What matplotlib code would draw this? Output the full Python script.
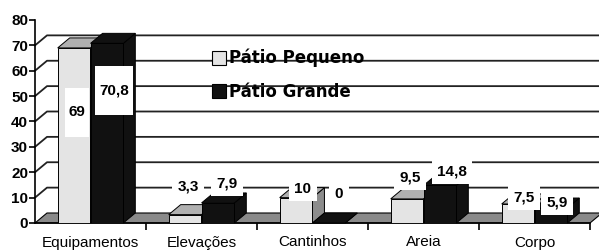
import matplotlib
matplotlib.use("Agg")
import matplotlib.pyplot as plt
from matplotlib.patches import Polygon, Rectangle
import numpy as np

# ---- data ----
categories = ["Equipamentos", "Elevações", "Cantinhos", "Areia", "Corpo"]
pequeno = [69, 3.3, 10, 9.5, 7.5]
grande = [70.8, 7.9, 0, 14.8, 5.9]
series_names = ["Pátio Pequeno", "Pátio Grande"]
yticks = [0, 10, 20, 30, 40, 50, 60, 70, 80]

# ---- layout / style ----
W, H = 599, 252
col_light = "#e4e4e4"
col_light_top = "#b0b0b0"
col_light_side = "#8c8c8c"
col_dark = "#111111"
col_floor = "#8a8a8a"
bar_w = 0.295
offsets = [-0.148, 0.148]
DX = 12 / 111.0          # depth shift in x (data units)
DY = 10 / 2.5375         # depth shift in y (data units)
# label anchor positions (x offset from category, y in data units)
label_layout = {
    0: ([-0.122, -0.122, -0.086, -0.122, -0.095], [43.6, 14.3, 13.5, 17.8, 9.9]),
    1: ([0.212, 0.230, 0.239, 0.257, 0.203], [52.3, 15.4, 11.5, 20.2, 7.9]),
}
tall_pad = {(0, 0): 0.9, (1, 0): 0.9}

fig = plt.figure(figsize=(W / 100, H / 100), dpi=100)
ax = fig.add_axes([35 / W, (H - 223) / H, 555 / W, 203 / H])
ax.set_xlim(-0.5, len(categories) - 0.5)
ax.set_ylim(0, 80)
ax.set_facecolor("none")

x = np.arange(len(categories))
xl, xr = -0.5, len(categories) - 0.5

# floor
ax.add_patch(Polygon([(xl, 0), (xr, 0), (xr + DX, DY), (xl + DX, DY)],
                     closed=True, facecolor=col_floor, edgecolor="black",
                     lw=0.8, zorder=0.5, clip_on=False))

# back-wall gridlines and diagonals
for v in yticks[1:]:
    if v + DY <= 80:
        ax.plot([xl, xl + DX, xr + DX], [v, v + DY, v + DY], color="#222222",
                lw=1.3, zorder=0.6, clip_on=False)

# bars with pseudo-3D faces
series = [pequeno, grande]
fronts = [col_light, col_dark]
tops = [col_light_top, col_dark]
sides = [col_light_side, col_dark]
for i in range(len(categories)):
    for s, vals in enumerate(series):
        v = vals[i]
        x0 = x[i] + offsets[s] - bar_w / 2
        x1 = x0 + bar_w
        z = 2 + s
        ax.add_patch(Polygon([(x1, 0), (x1 + DX, DY), (x1 + DX, v + DY), (x1, v)],
                             closed=True, facecolor=sides[s], edgecolor="black",
                             lw=0.7, zorder=z, clip_on=False))
        ax.add_patch(Polygon([(x0, v), (x1, v), (x1 + DX, v + DY), (x0 + DX, v + DY)],
                             closed=True, facecolor=tops[s], edgecolor="black",
                             lw=0.7, zorder=z, clip_on=False))
        ax.bar(x[i] + offsets[s], v, width=bar_w, color=fronts[s],
               edgecolor="black", lw=0.7, zorder=z + 0.1)

# value labels
for s, vals in enumerate(series):
    dxs, ys = label_layout[s]
    for i, v in enumerate(vals):
        txt = f"{v:g}".replace(".", ",")
        t = ax.text(x[i] + dxs[i], ys[i], txt, ha="center", va="center",
                    fontsize=11, fontweight="bold", family="Liberation Sans",
                    color="black", zorder=10)
        if (s, i) in tall_pad:
            # taller white box like the original
            t.set_text("\n" + txt + "\n")
            t.set_linespacing(0.95)
            t.set_bbox(dict(boxstyle="square,pad=0.25", facecolor="white",
                            edgecolor="none"))
        else:
            t.set_bbox(dict(boxstyle="square,pad=0.35", facecolor="white",
                            edgecolor="none"))

# axes styling
for sp in ["top", "right"]:
    ax.spines[sp].set_visible(False)
ax.spines["left"].set_linewidth(1.2)
ax.spines["bottom"].set_linewidth(1.2)
ax.spines["left"].set_zorder(1)
ax.spines["bottom"].set_zorder(1)
ax.set_yticks(yticks)
ax.set_yticklabels([str(t) for t in yticks], fontsize=11, fontweight="bold",
                   family="Liberation Sans")
ax.tick_params(axis="y", direction="out", length=4, width=1.2, pad=1)
ax.set_xticks(x)
ax.set_xticklabels(categories, fontsize=11, family="Liberation Sans")
ax.tick_params(axis="x", which="major", length=0, pad=9)
ax.set_xticks(np.arange(len(categories)) + 0.5, minor=True)
ax.tick_params(axis="x", which="minor", direction="out", length=5, width=1.2)

# legend (manual, no frame)
leg_items = [(col_light, 58, 63), (col_dark, 91, 97)]
for (col, cy, base), name in zip(leg_items, series_names):
    fig.patches.append(Rectangle(((212) / W, 1 - (cy + 7) / H), 14 / W, 14 / H,
                                 transform=fig.transFigure, facecolor=col,
                                 edgecolor="black", lw=0.8, zorder=20))
    fig.text(229 / W, 1 - base / H, name, fontsize=12, fontweight="bold",
             family="DejaVu Sans", va="baseline", ha="left", zorder=20)

fig.savefig("out.png", dpi=100)
